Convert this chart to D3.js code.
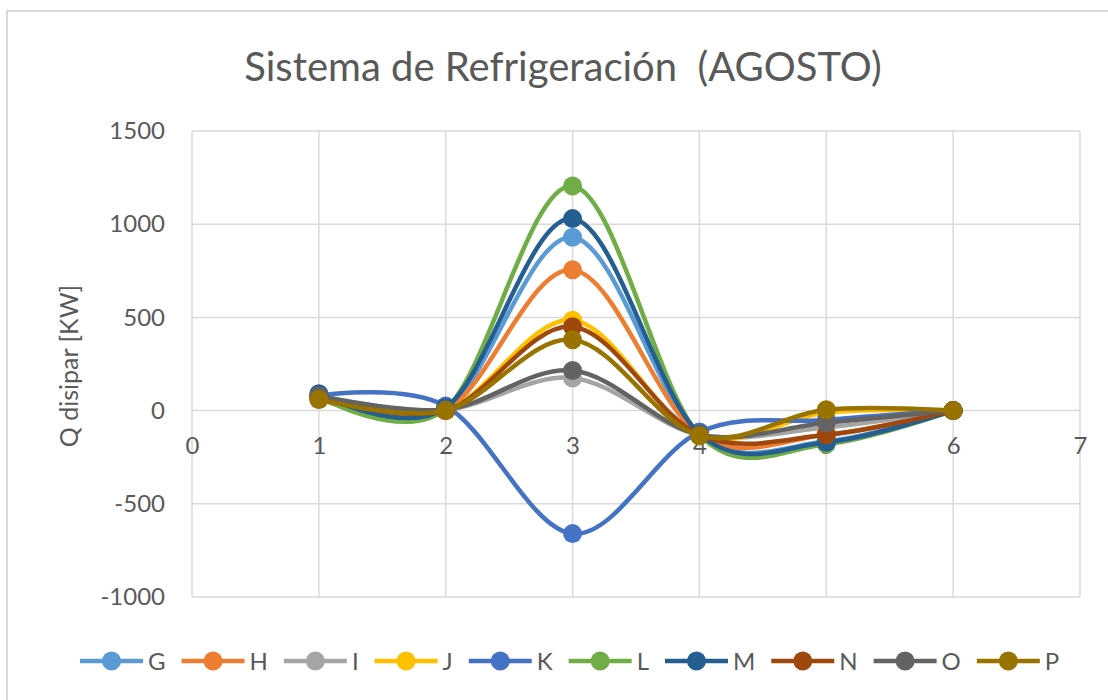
<!DOCTYPE html>
<html>
<head>
<meta charset="utf-8">
<script src="https://cdn.jsdelivr.net/npm/d3@7"></script>
<style>
  html, body { margin: 0; padding: 0; background: #ffffff; }
  svg { display: block; font-family: Lato, "Open Sans", sans-serif; }
  .pre { white-space: pre; }
</style>
</head>
<body>
<svg id="chart" width="1108" height="700"></svg>
<script>
// Stages on the x axis
const xValues = [1, 2, 3, 4, 5, 6];
const seriesNames = ["G", "H", "I", "J", "K", "L", "M", "N", "O", "P"];
const seriesColors = ["#5B9BD5", "#ED7D31", "#A5A5A5", "#FFC000", "#4472C4",
                      "#70AD47", "#255E91", "#9E480E", "#636363", "#997300"];

// Heat to dissipate [kW] per series
const G = [70, 5, 930, -130, -165, 0];
const H = [65, 0, 755, -130, -130, 0];
const I = [60, 5, 175, -130, -90, 0];
const J = [65, 0, 485, -135, -10, 0];
const K = [80, 25, -660, -115, -50, 0];
const L = [75, 10, 1205, -130, -180, 0];
const M = [90, 15, 1030, -125, -170, 0];
const N = [70, 0, 450, -130, -130, 0];
const O = [80, 5, 215, -130, -65, 0];
const P = [60, 0, 380, -135, 5, 0];
const seriesValues = [G, H, I, J, K, L, M, N, O, P];

const xTicks = [0, 1, 2, 3, 4, 5, 6, 7];
const yTicks = [-1000, -500, 0, 500, 1000, 1500];
const chartTitle = "Sistema de Refrigeración  (AGOSTO)";
const yTitle = "Q disipar [KW]";

const svg = d3.select("#chart");
const textColor = "#595959";
const gridColor = "#d9d9d9";

// chart frame
svg.append("rect")
  .attr("x", 7).attr("y", 11)
  .attr("width", 1120).attr("height", 720)
  .attr("fill", "#fff")
  .attr("stroke", "#d9d9d9").attr("stroke-width", 2);

const plot = { left: 192, right: 1080, top: 131, bottom: 597 };

const x = d3.scaleLinear().domain([0, 7]).range([plot.left, plot.right]);
const y = d3.scaleLinear().domain([-1000, 1500]).range([plot.bottom, plot.top]);

// plain integers with an ASCII hyphen for negatives
const intFmt = d => String(d);

// title
svg.append("text")
  .attr("class", "pre")
  .attr("x", 563).attr("y", 81)
  .attr("text-anchor", "middle")
  .attr("font-size", 40)
  .attr("fill", textColor)
  .text(chartTitle);

// gridlines
const grid = svg.append("g");
grid.selectAll("line.h").data(yTicks).join("line")
  .attr("x1", plot.left).attr("x2", plot.right)
  .attr("y1", d => y(d)).attr("y2", d => y(d))
  .attr("stroke", gridColor).attr("stroke-width", 1.5);
grid.selectAll("line.v").data(xTicks).join("line")
  .attr("x1", d => x(d)).attr("x2", d => x(d))
  .attr("y1", plot.top).attr("y2", plot.bottom)
  .attr("stroke", gridColor).attr("stroke-width", 1.5);

// y axis labels
const yAxis = d3.axisLeft(y).tickValues(yTicks).tickSize(0).tickPadding(27).tickFormat(intFmt);
const yg = svg.append("g").attr("transform", `translate(${plot.left},0)`).call(yAxis);
yg.select(".domain").remove();
yg.selectAll("text").attr("font-size", 24).attr("fill", textColor)
  .attr("font-family", "Lato, 'Open Sans', sans-serif");

// x axis labels sit under the zero line
const xAxis = d3.axisBottom(x).tickValues(xTicks).tickSize(0).tickPadding(26).tickFormat(intFmt);
const xg = svg.append("g").attr("transform", `translate(0,${y(0)})`).call(xAxis);
xg.select(".domain").remove();
xg.selectAll("text").attr("font-size", 24).attr("fill", textColor)
  .attr("font-family", "Lato, 'Open Sans', sans-serif");

// y axis title
svg.append("text")
  .attr("transform", `translate(78,${(plot.top + plot.bottom) / 2 + 2}) rotate(-90)`)
  .attr("text-anchor", "middle")
  .attr("font-size", 25)
  .attr("fill", textColor)
  .text(yTitle);

// smoothed series
const line = d3.line()
  .x((d, i) => x(xValues[i]))
  .y(d => y(d))
  .curve(d3.curveCardinal.tension(0));

const series = svg.append("g");
seriesValues.forEach((vals, si) => {
  const g = series.append("g");
  g.append("path")
    .attr("d", line(vals))
    .attr("fill", "none")
    .attr("stroke", seriesColors[si])
    .attr("stroke-width", 4.5)
    .attr("stroke-linecap", "round");
  g.selectAll("circle").data(vals).join("circle")
    .attr("cx", (d, i) => x(xValues[i]))
    .attr("cy", d => y(d))
    .attr("r", 9.5)
    .attr("fill", seriesColors[si]);
});

// legend
const legend = svg.append("g");
const legendY = 661;
let cursor = 80;
seriesNames.forEach((name, i) => {
  const it = legend.append("g");
  it.append("line")
    .attr("x1", 0).attr("x2", 63)
    .attr("y1", 0).attr("y2", 0)
    .attr("stroke", seriesColors[i]).attr("stroke-width", 4.5);
  it.append("circle").attr("cx", 31.5).attr("cy", 0).attr("r", 9.5)
    .attr("fill", seriesColors[i]);
  const t = it.append("text")
    .attr("x", 68).attr("y", 9)
    .attr("font-size", 24)
    .attr("fill", textColor)
    .text(name);
  it.attr("transform", `translate(${cursor},${legendY})`);
  cursor += 68 + t.node().getComputedTextLength() + 16;
});
</script>
</body>
</html>
